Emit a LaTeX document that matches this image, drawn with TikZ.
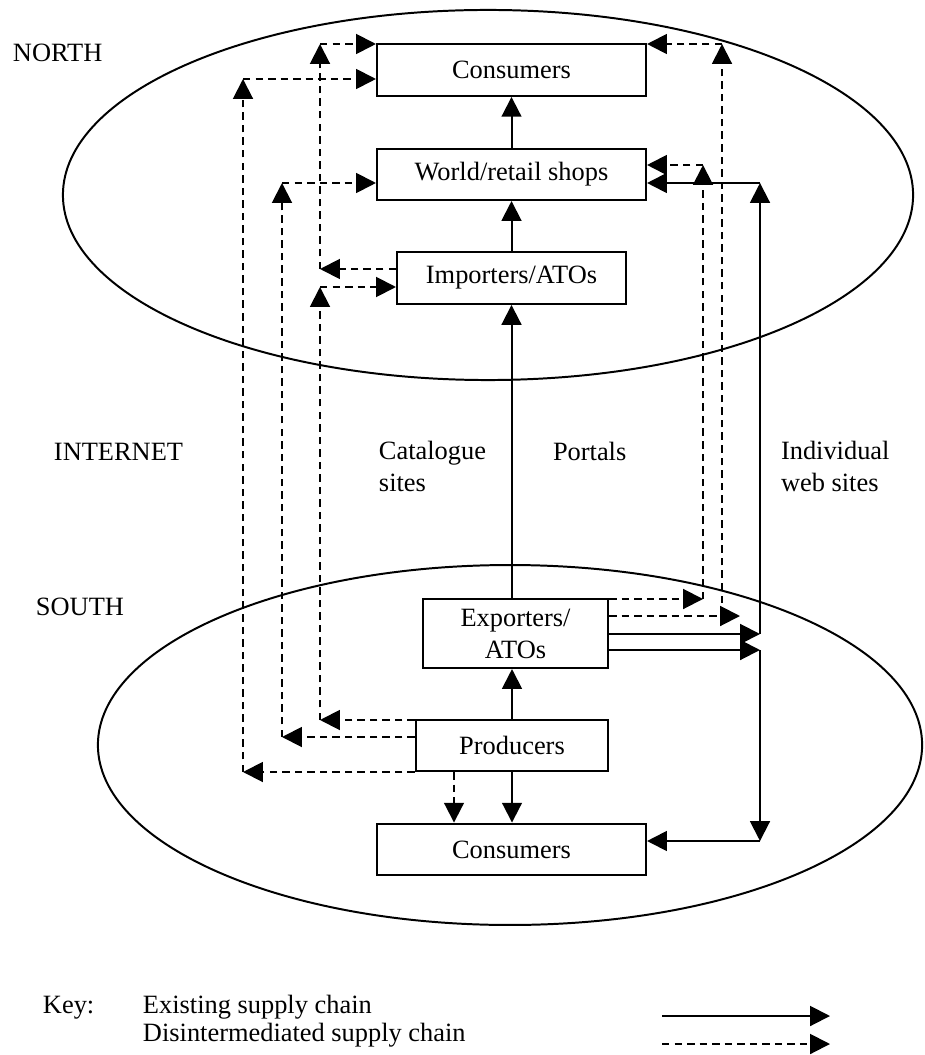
\documentclass[tikz,border=0pt]{standalone}
\usepackage{fontspec}
\setmainfont{Liberation Serif}
\usetikzlibrary{arrows.meta}
\usetikzlibrary{calc}

\begin{document}
\begin{tikzpicture}[x=0.4545pt,y=-0.4545pt,line width=0.9pt,
    >={Triangle[length=9pt,width=9pt]},
    box/.style={draw,rectangle,inner sep=0pt,minimum height=23.6pt,align=center,
      font=\fontsize{12}{14.5}\selectfont},
    dis/.style={dash pattern=on 3.4pt off 2.3pt},
    lbl/.style={inner sep=0pt,align=left,font=\fontsize{12}{14.5}\selectfont}]
    \useasboundingbox (0,0) rectangle (924,1055);
    % north and south
    \draw (488,195) ellipse [x radius=193.2pt, y radius=84.1pt];
    \draw (510,745) ellipse [x radius=187.3pt, y radius=81.8pt];
    %
    \node[box,minimum width=122.3pt] (consN) at (511.5,70) {Consumers};
    \node[box,minimum width=122.3pt,minimum height=23.2pt] (shops) at (511.5,174.5) {World/retail shops};
    \node[box,minimum width=104.1pt] (imp) at (511.5,278) {Importers/ATOs};
    \node[box,minimum width=84.1pt,minimum height=31.4pt] (exp) at (515.5,633.5) {Exporters/\\ATOs};
    \node[box,minimum width=87.3pt,minimum height=23.2pt] (prod) at (512,745.5) {Producers};
    \node[box,minimum width=122.3pt] (consS) at (511.5,849.5) {Consumers};
    %
    \node[lbl,anchor=base west] (north) at (12,62) {NORTH};
    \node[lbl,anchor=base west] (inet) at (53,460) {INTERNET};
    \node[lbl,anchor=base west] (south) at (35,615) {SOUTH};
    \node[lbl,anchor=north west] (cat) at (378,440) {Catalogue\\sites};
    \node[lbl,anchor=base west] (port) at (552,460) {Portals};
    \node[lbl,anchor=north west] (web) at (780,440) {Individual\\web sites};
    % existing chain
    \draw[->] (shops) -- (consN);
    \draw[->] (imp) -- (shops);
    \draw[->] (exp.north -| imp) -- (imp);
    \draw[->] (prod) -- (prod |- exp.south);
    \draw[->] (prod) -- (prod |- consS.north);
    \coordinate (wA) at (760,634); \coordinate (wB) at (760,183);
    \coordinate (wC) at (760,650); \coordinate (wD) at (760,841);
    \draw[->] (exp.east |- wA) -- (wA); \draw[->] (wA) -- (wB);
    \draw[->] (wB) -- (wB -| shops.east);
    \draw[->] (exp.east |- wC) -- (wC); \draw[->] (wC) -- (wD);
    \draw[->] (wD) -- (wD -| consS.east);
    % disintermediated chain
    \coordinate (a1) at (320,269); \coordinate (a2) at (320,44);
    \draw[dis,->] (a1 -| imp.west) -- (a1); \draw[dis,->] (a1) -- (a2);
    \draw[dis,->] (a2) -- (a2 -| consN.west);
    \coordinate (b1) at (320,720); \coordinate (b2) at (320,287);
    \draw[dis,->] (b1 -| prod.west) -- (b1); \draw[dis,->] (b1) -- (b2);
    \draw[dis,->] (b2) -- (b2 -| imp.west);
    \coordinate (c1) at (282,737); \coordinate (c2) at (282,183);
    \draw[dis,->] (c1 -| prod.west) -- (c1); \draw[dis,->] (c1) -- (c2);
    \draw[dis,->] (c2) -- (c2 -| shops.west);
    \coordinate (d1) at (243,772); \coordinate (d2) at (243,79);
    \draw[dis,->] (d1 -| prod.west) -- (d1); \draw[dis,->] (d1) -- (d2);
    \draw[dis,->] (d2) -- (d2 -| consN.west);
    \coordinate (e1) at (703,599); \coordinate (e2) at (703,165);
    \draw[dis,->] (e1 -| exp.east) -- (e1); \draw[dis,->] (e1) -- (e2);
    \draw[dis,->] (e2) -- (e2 -| shops.east);
    \coordinate (f1) at (740,616); \coordinate (f2) at (722,603); \coordinate (f3) at (722,44);
    \draw[dis,->] (f1 -| exp.east) -- (f1); \draw[dis,->] (f2) -- (f3);
    \draw[dis,->] (f3) -- (f3 -| consN.east);
    \coordinate (g) at (454,0);
    \draw[dis,->] (g |- prod.south) -- (g |- consS.north);
    % key
    \node[lbl,anchor=base west] (key) at (42,1013) {Key:};
    \node[lbl,anchor=base west] (kex) at (142,1013) {Existing supply chain};
    \node[lbl,anchor=base west] (kdis) at (142,1041) {Disintermediated supply chain};
    \coordinate (k1) at (662,1016); \coordinate (k2) at (830,1016);
    \coordinate (k3) at (662,1044); \coordinate (k4) at (830,1044);
    \draw[->] (k1) -- (k2);
    \draw[dis,->] (k3) -- (k4);
  \end{tikzpicture}
\end{document}
